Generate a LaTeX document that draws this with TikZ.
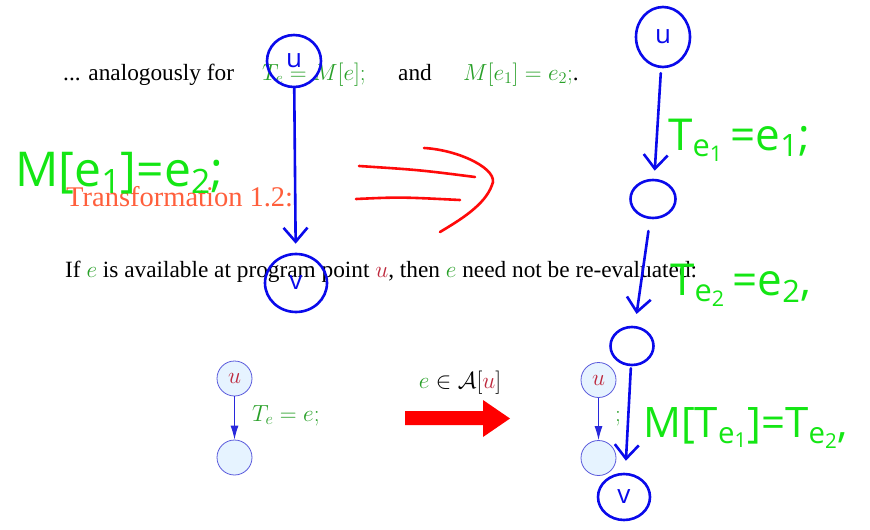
\documentclass[tikz,border=0pt]{standalone}
\usepackage{fix-cm}
\usepackage{fontspec}
\setmainfont{Liberation Serif}
\newfontfamily\hand{Open Sans}
\usetikzlibrary{arrows.meta,shapes.geometric}
\definecolor{sgreen}{RGB}{40,160,40}
\definecolor{sred}{RGB}{190,40,60}
\definecolor{sorange}{RGB}{255,95,60}
\definecolor{snode}{RGB}{230,243,255}
\definecolor{sborder}{RGB}{90,90,220}
\definecolor{sarrow}{RGB}{40,40,220}
\definecolor{hblue}{RGB}{10,10,235}
\definecolor{hgreen}{RGB}{20,230,20}
\definecolor{hred}{RGB}{255,10,10}
\begin{document}
\begin{tikzpicture}[x=1pt,y=-1pt,
 slidetext/.style={anchor=base west, inner sep=0pt, font=\fontsize{23.3}{27}\selectfont},
 cfgnode/.style={circle, draw=sborder, fill=snode, line width=0.8pt, minimum size=35pt, inner sep=0pt, font=\fontsize{23.3}{27}\selectfont},
 cfgarrow/.style={draw=sarrow, line width=1pt, -{Latex[length=14pt,width=8pt]}},
 handcircle/.style={ellipse, draw=hblue, line width=2.6pt, inner sep=0pt, text=hblue, font=\hand\fontsize{26}{30}\selectfont},
 handarrow/.style={draw=hblue, line width=2.6pt, line cap=round, -{Straight Barb[length=14pt,width=24pt]}},
 handtext/.style={anchor=base west, inner sep=0pt, text=hgreen, font=\hand\fontsize{44}{50}\selectfont},
 handstroke/.style={draw=hred, line width=2.6pt, line cap=round},
]
\fill[white] (0,0) rectangle (870,530);
\useasboundingbox (0,0) rectangle (870,530);

% slide text
\node[slidetext] (t1) at (63,80) {... analogously for};
\node[slidetext, text=sgreen] (t2) at (262,80) {$T_e = M[e];$};
\node[slidetext] (t3) at (398,80) {and};
\node[slidetext] (t4) at (463,80) {{\color{sgreen}$M[e_1] = e_2;$}.};
\node[anchor=base west, inner sep=0pt, text=sorange, font=\fontsize{28.5}{33}\selectfont] (head) at (66,206) {Transformation 1.2:};
\node[slidetext] (body) at (65,277) {If {\color{sgreen}$e$} is available at program point {\color{sred}$u$}, then {\color{sgreen}$e$} need not be re-evaluated:};

% left cfg
\node[cfgnode] (lu) at (234.5,378.5) {\color{sred}$u$};
\node[cfgnode] (lv) at (234.5,457.5) {};
\draw[cfgarrow] (lu) -- (lv);
\node[anchor=base west, inner sep=0pt, text=sgreen, font=\fontsize{23.3}{27}\selectfont] (ll) at (252,421) {$T_e = e;$};

% red arrow
\fill[red] (405,411) -- (483,411) -- (483,400) -- (510,418.5) -- (483,437) -- (483,425) -- (405,425) -- cycle;
\node[inner sep=0pt, font=\fontsize{23.3}{27}\selectfont] (cond) at (460,383) {${\color{sgreen}e} \in \mathcal{A}[{\color{sred}u}]$};

% right cfg
\node[cfgnode] (ru) at (598.5,380) {\color{sred}$u$};
\node[cfgnode] (rv) at (598.5,458) {};
\draw[cfgarrow] (ru) -- (rv);
\node[anchor=base west, inner sep=0pt, text=sgreen, font=\fontsize{23.3}{27}\selectfont] (rsemi) at (615,421) {$;$};

% handwritten annotations
\node[handcircle, minimum width=54pt, minimum height=52pt] (hu1) at (294,61) {u};
\node[handcircle, minimum width=62pt, minimum height=58pt] (hv1) at (296,283) {v};
\draw[handarrow, shorten >=9pt] (hu1) -- (hv1);

\node[handtext, font=\hand\fontsize{48}{52}\selectfont] (hm1) at (15,186) {M[e\textsubscript{1}]=e\textsubscript{2};};

\draw[handstroke] (359,166) .. controls (420,170) .. (475,177);
\draw[handstroke] (356,199) .. controls (400,197) .. (460,200);
\draw[handstroke] (424,148) .. controls (460,150) and (500,170) .. (492,185) .. controls (485,205) and (460,220) .. (440,232);

\node[handcircle, minimum width=54pt, minimum height=60pt] (hu2) at (663,37) {u};
\node[handcircle, minimum width=45pt, minimum height=38pt] (hn2) at (653,199) {};
\node[handcircle, minimum width=43pt, minimum height=38pt] (hn3) at (632,346) {};
\node[handcircle, minimum width=52pt, minimum height=46pt] (hv2) at (624,497) {v};
\draw[handarrow, shorten <=5pt, shorten >=8pt] (hu2) -- (hn2);
\draw[handarrow, shorten <=12pt, shorten >=12pt] (hn2) -- (hn3);
\draw[handarrow, shorten <=2pt, shorten >=12pt] (hn3) -- (hv2);

\node[handtext] (hte1) at (668,150) {T\textsubscript{e\textsubscript{1}}\,=e\textsubscript{1};};
\node[handtext] (hte2) at (670,295) {T\textsubscript{e\textsubscript{2}}\,=e\textsubscript{2},};
\node[handtext, font=\hand\fontsize{42}{46}\selectfont] (hmt) at (643,437) {M[T\textsubscript{e\textsubscript{1}}]=T\textsubscript{e\textsubscript{2}},};
\end{tikzpicture}
\end{document}
